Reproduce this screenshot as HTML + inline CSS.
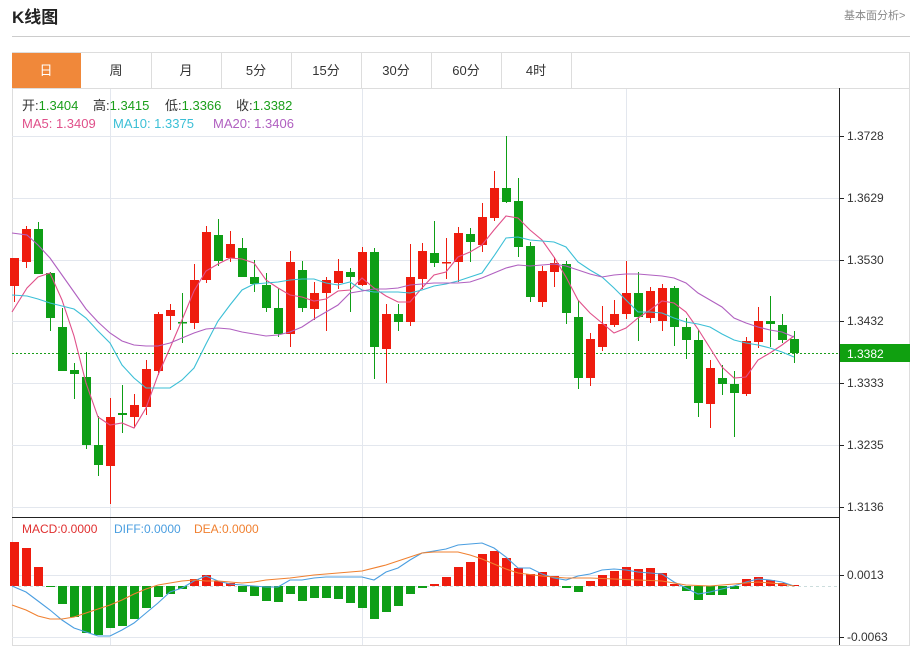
<!DOCTYPE html>
<html><head><meta charset="utf-8"><style>
body{margin:0;background:#fff;font-family:"Liberation Sans","Noto Sans CJK SC",sans-serif;}
</style></head><body>
<svg id="s" width="921" height="647" xmlns="http://www.w3.org/2000/svg" style="display:block;font-family:'Liberation Sans','Noto Sans CJK SC',sans-serif">
<text x="12" y="23" font-size="17" font-weight="bold" fill="#222">K线图</text>
<text x="844" y="19" font-size="11" fill="#888">基本面分析&gt;</text>
<line x1="12" y1="36.5" x2="910" y2="36.5" stroke="#ccc"/>
<rect x="12.5" y="52.5" width="897" height="593" fill="none" stroke="#ddd"/>
<line x1="12" y1="88.5" x2="910" y2="88.5" stroke="#ddd"/>
<rect x="12" y="53" width="69" height="35" fill="#f0883a"/>
<g font-size="13" fill="#333" text-anchor="middle">
<text x="46" y="75" fill="#fff">日</text><text x="116" y="75">周</text><text x="186" y="75">月</text><text x="256" y="75">5分</text><text x="326" y="75">15分</text><text x="396" y="75">30分</text><text x="466" y="75">60分</text><text x="536" y="75">4时</text>
</g>
<g stroke="#ddd"><line x1="151.5" y1="53" x2="151.5" y2="88"/><line x1="221.5" y1="53" x2="221.5" y2="88"/><line x1="291.5" y1="53" x2="291.5" y2="88"/><line x1="361.5" y1="53" x2="361.5" y2="88"/><line x1="431.5" y1="53" x2="431.5" y2="88"/><line x1="501.5" y1="53" x2="501.5" y2="88"/><line x1="571.5" y1="53" x2="571.5" y2="88"/></g>
<g id="grid" stroke="#e3e7ee" stroke-width="1"></g>
<line x1="12" y1="517.5" x2="840" y2="517.5" stroke="#222"/>
<line x1="839.5" y1="88" x2="839.5" y2="645" stroke="#222"/>
<g font-size="13">
<text x="22" y="110" fill="#333">开:<tspan fill="#1a9e1a">1.3404</tspan></text>
<text x="93" y="110" fill="#333">高:<tspan fill="#1a9e1a">1.3415</tspan></text>
<text x="165" y="110" fill="#333">低:<tspan fill="#1a9e1a">1.3366</tspan></text>
<text x="236" y="110" fill="#333">收:<tspan fill="#1a9e1a">1.3382</tspan></text>
<text x="22" y="128" fill="#e0508a">MA5:  1.3409</text>
<text x="113" y="128" fill="#3bbfd6">MA10:  1.3375</text>
<text x="213" y="128" fill="#b060c0">MA20:  1.3406</text>
</g>
<g font-size="12" fill="#333">
<text x="847" y="140">1.3728</text><text x="847" y="202">1.3629</text><text x="847" y="264">1.3530</text><text x="847" y="325">1.3432</text><text x="847" y="387">1.3333</text><text x="847" y="449">1.3235</text><text x="847" y="511">1.3136</text>
<text x="847" y="579">0.0013</text><text x="847" y="641">-0.0063</text>
</g>
<g stroke="#222"><line x1="840" y1="136.5" x2="844" y2="136.5"/><line x1="840" y1="198.5" x2="844" y2="198.5"/><line x1="840" y1="260.5" x2="844" y2="260.5"/><line x1="840" y1="321.5" x2="844" y2="321.5"/><line x1="840" y1="383.5" x2="844" y2="383.5"/><line x1="840" y1="445.5" x2="844" y2="445.5"/><line x1="840" y1="507.5" x2="844" y2="507.5"/><line x1="840" y1="575.5" x2="844" y2="575.5"/><line x1="840" y1="637.5" x2="844" y2="637.5"/></g>
<line x1="12" y1="353.5" x2="840" y2="353.5" stroke="#1a9e1a" stroke-dasharray="2,2"/>
<rect x="840" y="344" width="70" height="18" fill="#10a010"/>
<text x="847" y="358" font-size="12" fill="#fff">1.3382</text>
<line x1="12" y1="586.5" x2="840" y2="586.5" stroke="#cdd" stroke-dasharray="3,3"/>
<text x="22" y="533" font-size="12" fill="#e03030">MACD:0.0000</text>
<text x="114" y="533" font-size="12" fill="#4a9ee0">DIFF:0.0000</text>
<text x="194" y="533" font-size="12" fill="#f08030">DEA:0.0000</text>
<g id="c"></g>
</svg>
<script>
var NS="http://www.w3.org/2000/svg",s=document.getElementById('c'),g=document.getElementById('grid');
function el(t,a,p){var e=document.createElementNS(NS,t);for(var k in a)e.setAttribute(k,a[k]);(p||s).appendChild(e);return e;}
[136,198,260,321,383,445,507,575,637].forEach(function(y){el('line',{x1:12,x2:840,y1:y+.5,y2:y+.5},g)});
[110,362,626].forEach(function(x){el('line',{x1:x+.5,x2:x+.5,y1:89,y2:645},g)});
var C=[['r',258,286,258,302],['r',229,262,226,268],['g',229,274,222,274],['g',273,318,272,331],['g',327,371,308,371],['g',370,374,363,399],['g',377,445,352,449],['g',445,465,416,476],['r',417,466,398,504],['g',413,415,385,433],['r',405,417,394,428],['r',369,407,360,415],['r',314,371,312,375],['r',310,316,304,330],['g',322,323,293,343],['r',280,323,264,329],['r',232,280,226,283],['g',235,261,219,266],['r',244,258,231,262],['g',248,277,238,277],['g',277,284,260,292],['g',285,308,273,312],['g',308,334,288,337],['r',262,334,251,347],['g',270,308,261,312],['r',293,309,282,320],['r',280,293,277,331],['r',271,283,259,289],['g',272,277,268,312],['r',252,285,247,286],['g',252,347,248,379],['r',314,349,304,383],['g',314,322,304,331],['r',277,322,244,326],
['r',251,279,243,289],['g',253,263,221,267],['r',262,263,238,279],['r',233,262,227,282],['g',234,242,228,262],['r',217,245,203,252],['r',188,218,171,221],['g',188,202,136,203],['g',201,247,178,257],['g',246,297,242,302],['r',271,302,266,307],['r',263,272,257,287],['g',264,313,261,324],['g',317,378,300,389],['r',339,378,333,386],['r',324,347,306,351],['r',314,325,300,327],['r',293,314,261,319],['g',293,317,272,341],['r',291,318,287,323],['r',288,321,284,331],['g',288,327,286,346],['g',327,340,318,359],['g',340,403,330,417],['r',368,404,360,428],['g',378,384,365,395],['g',384,393,371,437],['r',341,394,337,396],['r',321,342,307,348],['g',321,324,296,347],['g',325,340,314,343],['g',339,353,331,363]];
var col={r:'#ee1c0e',g:'#0e9e16'};
C.forEach(function(c,i){var x=14+12*i,f=col[c[0]];el('line',{x1:x+.5,x2:x+.5,y1:c[3],y2:c[4],stroke:f});el('rect',{x:x-4,y:c[1],width:9,height:Math.max(1.5,c[2]-c[1]),fill:f});});
var H=[542,548,567,587,604,617,633,635,628,626,619,608,597,594,589,579,575,581,583,592,596,601,602,594,601,598,598,599,603,608,619,612,606,594,588,584,577,567,562,554,551,558,568,574,572,576,588,592,581,575,571,567,569,568,573,584,591,600,595,595,589,579,577,580,583,585];
H.forEach(function(y,i){var x=14+12*i,z=586;el('rect',{x:x-4,y:Math.min(y,z),width:9,height:Math.max(1,Math.abs(y-z)),fill:y<z?'#ee1c0e':'#0e9e16'});});
function pl(p,c){el('polyline',{points:p,fill:'none',stroke:c,'stroke-width':1.1});}
pl("12,312 27,288 38,277 50,273 62,300 74,336 86,383 98,417 110,425 122,423 134,428 146,408 158,375 170,348 182,320 194,291 206,271 218,264 230,258 242,259 254,263 266,280 278,288 290,295 302,297 314,301 326,299 338,291 350,290 362,278 374,288 386,296 398,302 410,302 422,288 434,275 446,272 458,257 470,252 482,245 494,230 506,216 518,218 530,230 542,240 554,257 566,277 578,300 590,313 602,323 614,333 626,328 638,318 650,310 662,301 674,303 686,312 698,329 710,348 722,367 734,378 746,377 758,360 770,353 782,345 794,336","#e0508a");
pl("12,295 27,296 38,299 50,303 62,306 74,309 86,318 98,331 110,343 122,365 134,378 146,388 158,388 170,388 182,380 194,368 206,344 218,321 230,305 242,290 254,284 266,283 278,282 290,280 302,279 314,279 326,283 338,285 350,282 362,290 374,292 386,292 398,292 410,293 422,290 434,286 446,284 458,281 470,277 482,273 494,256 506,238 518,237 530,240 542,241 554,242 566,247 578,262 590,270 602,277 614,288 626,300 638,312 650,312 662,313 674,318 686,322 698,324 710,327 722,334 734,340 746,343 758,345 770,348 782,352 794,357","#3bbfd6");
pl("12,233 27,235 38,245 50,258 62,275 74,292 86,309 98,322 110,333 122,341 134,345 146,346 158,346 170,343 182,338 194,333 206,329 218,328 230,329 242,332 254,334 266,336 278,335 290,332 302,327 314,319 326,312 338,305 350,293 362,291 374,289 386,289 398,288 410,285 422,284 434,283 446,283 458,283 470,282 482,278 494,273 506,268 518,265 530,266 542,265 554,264 566,266 578,270 590,274 602,277 614,275 626,274 638,274 650,275 662,276 674,278 686,283 698,293 710,300 722,307 734,318 746,323 758,327 770,330 782,332 794,337","#b060c0");
pl("12,586 26,592 38,601 50,610 62,620 74,628 86,632 98,636 110,636 122,630 134,623 146,613 158,603 170,592 182,588 194,581 206,576 218,581 230,584 242,585 254,586 266,587 278,587 290,580 302,580 314,578 326,577 338,577 350,577 362,577 374,580 386,572 398,568 410,560 422,553 434,551 446,549 458,545 470,544 482,543 494,548 506,557 518,568 530,568 542,574 554,578 566,580 578,576 590,574 602,570 614,569 626,570 638,572 650,573 662,574 674,582 686,588 698,594 710,592 722,589 734,586 746,582 758,579 770,580 782,582 794,586","#4a9ee0");
pl("12,605 26,610 38,616 50,619 62,619 74,617 86,613 98,609 110,605 122,600 134,594 146,589 158,585 170,583 182,581 194,580 206,581 218,581 230,582 242,583 254,582 266,580 290,578 314,575 338,573 362,571 386,565 410,557 422,553 434,552 446,552 458,552 470,555 482,559 494,564 506,569 518,573 542,576 566,578 590,578 614,579 638,580 662,581 686,585 710,586 734,584 758,582 782,584 794,586","#f08030");
</script>
</body></html>
